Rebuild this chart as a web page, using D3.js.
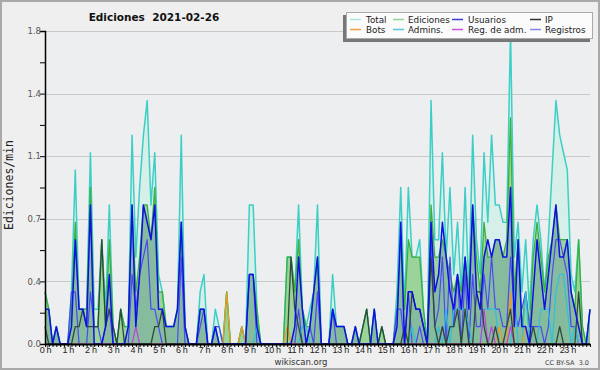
<!DOCTYPE html>
<html>
<head>
<meta charset="utf-8">
<script src="https://cdn.jsdelivr.net/npm/d3@7"></script>
<style>
  body { margin: 0; background: #efefef; }
  svg { display: block; }
</style>
</head>
<body>
<svg id="chart" width="600" height="370"></svg>
<script>
// values per 10 minutes, 00:00 .. 24:00 (145 points), edits per minute
const total = [
  0.3,0.2,0,0.1,0,0,   0,0.3,1.0,0.2,0.2,0.2,   1.1,0.2,0.2,0.6,0.2,0.8,   0.1,0,0.2,0.1,0.1,1.2,
  0.5,0.9,1.2,1.4,0.8,1.1,   0.4,0.3,0.1,0.1,0.1,0.2,   1.2,0.1,0,0,0,0.3,   0.4,0,0,0.2,0.1,0,
  0.3,0,0,0,0.1,0,   0.8,0.8,0.2,0,0,0,   0,0,0,0,0.5,0.5,   0.3,0.8,0.2,0.1,0.2,0.3,
  0.8,0,0,0,0.4,0.1,   0.1,0.1,0,0,0.1,0,   0.1,0.2,0,0.2,0,0.1,   0,0,0,0.3,0.9,0.2,
  0.9,0.5,0.5,0.6,0.2,0,   1.4,0.6,0.6,1.1,0.5,0.9,   0.4,0.7,0.3,0.9,0.3,1.2,   0.6,0.4,1.1,0.7,1.2,0.8,
  0.8,0.7,0.7,1.8,0.5,0.7,   0.3,0.6,0.2,0.6,0.8,0.6,   0.3,0.6,1.0,1.4,1.2,1.1,   1.0,0.4,0.3,0.6,0.1,0,
  0.2
]
const ediciones = [
  0.3,0.2,0,0.1,0,0,   0,0.2,0.7,0.2,0.2,0.2,   0.9,0.1,0.1,0.6,0.1,0.6,   0.1,0,0.2,0.1,0.1,0.8,
  0.3,0.5,0.8,0.8,0.6,0.9,   0.3,0.3,0.1,0.1,0.1,0.2,   0.7,0.1,0,0,0,0.2,   0.2,0,0,0.1,0,0,
  0.3,0,0,0,0.1,0,   0.4,0.4,0.2,0,0,0,   0,0,0,0,0.5,0.5,   0.3,0.6,0.2,0.1,0.1,0.3,
  0.5,0,0,0,0.2,0.1,   0.1,0.1,0,0,0.1,0,   0.1,0.2,0,0.2,0,0.1,   0,0,0,0.2,0.6,0.2,
  0.6,0.5,0.5,0.5,0.2,0,   0.8,0.5,0.5,0.6,0.5,0.4,   0.3,0.4,0.3,0.5,0.3,0.8,   0.5,0.3,0.7,0.5,0.5,0.6,
  0.6,0.5,0.6,1.3,0.3,0.6,   0.1,0.3,0.1,0.5,0.7,0.5,   0.3,0.5,0.6,0.8,0.6,0.6,   0.6,0.3,0.2,0.6,0.1,0,
  0.2
]
const usuarios = [
  0.2,0.2,0,0.1,0,0,   0,0.1,0.6,0.2,0.2,0.1,   0.8,0,0,0,0.1,0.4,   0,0,0,0,0.1,0.8,
  0.1,0.4,0.8,0.7,0.6,0.8,   0.2,0.2,0.1,0.1,0.1,0.2,   0.7,0.1,0,0,0,0.2,   0.2,0,0,0.1,0,0,
  0,0,0,0,0,0,   0.4,0.4,0.1,0,0,0,   0,0,0,0,0,0,   0.1,0.5,0.2,0,0.1,0.3,
  0.5,0,0,0,0.2,0.1,   0.1,0.1,0,0,0.1,0,   0,0,0,0.2,0,0,   0,0,0,0.1,0.7,0,
  0.3,0.3,0.2,0.2,0.1,0,   0.7,0.3,0.4,0.7,0.5,0.3,   0.2,0.4,0.2,0.5,0.2,0.8,   0.3,0.2,0.5,0.6,0.5,0.6,
  0.6,0.5,0.5,0.9,0.1,0.6,   0.1,0.1,0,0.3,0.6,0.4,   0.2,0.4,0.6,0.8,0.5,0.5,   0.6,0.3,0.2,0.1,0,0,
  0.2
]
const ip = [
  0.1,0,0,0,0,0,   0,0,0.1,0.1,0.2,0.1,   0.1,0.1,0.1,0.6,0.1,0.2,   0.1,0,0.2,0,0,0,
  0,0,0,0,0,0.1,   0.1,0.2,0,0,0,0,   0,0,0,0,0,0,   0,0,0,0,0,0,
  0,0,0,0,0,0,   0,0,0,0,0,0,   0,0,0,0,0,0.5,   0.2,0.1,0,0,0,0,
  0,0,0,0,0,0,   0,0,0,0,0,0,   0.1,0.2,0,0,0,0.1,   0,0,0,0,0,0.1,
  0,0.3,0.2,0.2,0.1,0,   0.5,0.1,0,0.1,0,0.1,   0.1,0.2,0,0.2,0,0,   0.3,0.3,0.1,0,0,0.1,
  0,0,0.1,0.2,0,0,   0,0,0,0.1,0,0,   0,0,0,0,0.1,0,   0,0,0,0.3,0,0,
  0
]
const registros = [
  0,0,0,0,0,0,   0,0.3,0.3,0,0,0,   0.3,0.1,0.1,0,0.1,0.2,   0,0,0,0,0,0.4,
  0.2,0.4,0.5,0.6,0.2,0.2,   0.1,0,0,0,0,0,   0.5,0,0,0,0,0.1,   0.2,0,0,0.1,0.1,0,
  0,0,0,0,0,0,   0.4,0.4,0,0,0,0,   0,0,0,0,0,0,   0,0.2,0,0,0.1,0,
  0.3,0,0,0,0.2,0,   0,0,0,0,0,0,   0,0,0,0,0,0,   0,0,0,0.2,0.2,0,
  0.3,0,0,0.1,0,0,   0.6,0.1,0.2,0.5,0,0.5,   0.1,0.4,0,0.4,0,0.4,   0.1,0.1,0.4,0.2,0.5,0.2,
  0.2,0.1,0.1,0.5,0.2,0.1,   0.2,0.3,0.1,0.1,0.1,0.1,   0,0.1,0.4,0.6,0.6,0.5,   0.4,0.1,0.1,0,0,0,
  0
]
const admins = [
  0,0,0,0,0,0,   0,0,0,0,0,0,   0,0,0,0,0,0,   0,0,0,0,0,0,
  0,0,0,0,0,0,   0,0,0,0,0,0,   0,0,0,0,0,0,   0,0,0,0,0,0,
  0,0,0,0,0,0,   0,0,0.1,0,0,0,   0,0,0,0,0,0,   0,0,0.1,0.1,0,0,
  0,0,0,0,0,0,   0,0,0,0,0,0,   0,0,0,0,0,0,   0,0,0,0,0,0,
  0,0.1,0,0,0,0,   0,0,0.1,0,0.2,0,   0.2,0.2,0.2,0.2,0.1,0,   0,0,0.2,0.2,0.2,0.2,
  0,0,0,0,0.3,0,   0,0.3,0,0,0,0.2,   0.2,0.2,0,0.3,0.4,0.4,   0.2,0,0.1,0,0,0,
  0
]
const bots = [
  0,0,0,0,0,0,   0,0,0,0,0,0,   0,0,0,0,0,0,   0,0,0,0,0,0,
  0,0,0,0,0,0,   0,0,0,0,0,0,   0,0,0,0,0,0,   0,0,0,0,0,0,
  0.3,0,0,0,0.1,0,   0,0,0,0,0,0,   0,0,0,0,0.1,0,   0,0,0,0,0,0,
  0,0,0,0,0,0,   0,0,0,0,0,0,   0,0,0,0,0,0,   0,0,0,0,0,0,
  0,0,0,0,0,0,   0,0,0,0,0,0,   0,0,0,0,0,0,   0,0,0,0,0,0,
  0.1,0,0,0.3,0,0,   0,0.1,0,0,0,0,   0,0,0,0,0,0,   0,0,0,0,0,0,
  0
]
const regAdm = [
  0,0,0,0,0,0,   0,0,0,0,0,0,   0,0,0,0,0,0,   0,0,0,0,0,0,
  0.1,0,0,0,0,0,   0,0,0,0,0,0,   0,0,0,0,0,0,   0,0,0,0,0,0,
  0,0,0,0,0,0,   0,0,0,0,0,0,   0,0,0,0,0,0,   0,0,0,0,0,0,
  0,0,0,0,0,0,   0,0,0,0,0,0,   0,0,0,0,0,0,   0,0,0,0,0,0,
  0,0,0,0,0,0,   0,0,0,0.1,0,0,   0,0,0,0,0,0,   0,0,0.2,0,0.1,0,
  0,0,0,0.1,0,0,   0,0,0,0,0,0,   0,0,0,0,0,0,   0,0,0,0,0,0,
  0
]
const hourLabels = d3.range(24).map(h => h + " h")
const legendNames = ["Total", "Ediciones", "Usuarios", "IP", "Bots", "Admins.", "Reg. de adm.", "Registros"]
const legendColors = ["#a8e6de", "#8fd48f", "#3a3ad4", "#333333", "#f0a040", "#50c8d8", "#c850e0", "#8585ec"]

const svg = d3.select("#chart")
const font = "DejaVu Sans, Verdana, sans-serif"

// frame
svg.append("rect").attr("x", 1).attr("y", 1).attr("width", 598).attr("height", 368)
    .attr("fill", "#efefef").attr("stroke", "#a9a9a9").attr("stroke-width", 2)

const x = d3.scaleLinear().domain([0, 144]).range([45, 590])
const y = d3.scaleLinear().domain([0, 1.8]).range([344, 31])

svg.append("rect").attr("x", 45).attr("y", 31).attr("width", 545).attr("height", 313).attr("fill", "#eceef0")

// grid
const majorY = d3.range(0, 6).map(k => k * 0.36)
svg.append("g").selectAll("line").data(majorY.slice(1)).join("line")
    .attr("x1", 45).attr("x2", 590)
    .attr("y1", d => Math.round(y(d)) + 0.5).attr("y2", d => Math.round(y(d)) + 0.5)
    .attr("stroke", "#c9c9c9").attr("stroke-width", 1)

// AREAS
const area = d3.area().x((d, i) => x(i)).y0(y(0)).y1(d => y(d))
const line = d3.line().x((d, i) => x(i)).y(d => y(d))

svg.append("path").datum(total).attr("d", area).attr("fill", "#d6efe8")
svg.append("path").datum(ediciones).attr("d", area).attr("fill", "#9bd39b")
svg.append("path").datum(usuarios).attr("d", area).attr("fill", "rgba(80,128,160,0.28)")

// LINES
const series = [
    {v: total, c: "#3ccfc6", w: 1.5},
    {v: ediciones, c: "#3cb03c", w: 1.3},
    {v: registros, c: "#4a4af2", w: 1.2},
    {v: admins, c: "#2ec0dc", w: 1.2},
    {v: bots, c: "#f09a20", w: 1.2},
    {v: regAdm, c: "#c040e0", w: 1.2},
    {v: ip, c: "#2f4a38", w: 1.3},
    {v: usuarios, c: "#0f0fe6", w: 1.5}
]
for (let s of series) {
    svg.append("path").datum(s.v).attr("d", line)
        .attr("fill", "none").attr("stroke", s.c).attr("stroke-width", s.w)
        .attr("stroke-linejoin", "round")
}

// AXES
const yAxis = svg.append("g").attr("transform", "translate(45,0)")
    .call(d3.axisLeft(y)
        .tickValues(d3.range(0, 11).map(k => k * 0.18))
        .tickSize(5)
        .tickFormat((d, i) => i % 2 ? "" : d3.format(".1f")(d)))
yAxis.select(".domain").attr("stroke", "#000").attr("stroke-width", 1.5)
yAxis.selectAll(".tick line").attr("stroke", "#000")
yAxis.selectAll(".tick text").attr("font-family", font).attr("font-size", 8.5).attr("fill", "#555").attr("x", -4)

const xAxis = svg.append("g").attr("transform", "translate(0,344)")
    .call(d3.axisBottom(x)
        .tickValues(d3.range(0, 145))
        .tickSize(3)
        .tickSizeOuter(0)
        .tickFormat(d => d % 6 === 0 && d < 144 ? hourLabels[d / 6] : ""))
xAxis.select(".domain").attr("stroke", "#000").attr("stroke-width", 2)
xAxis.selectAll(".tick line").attr("stroke", "#000")
xAxis.selectAll(".tick text").attr("font-family", "Liberation Sans, Arial, sans-serif")
    .attr("font-size", 9).attr("fill", "#222").attr("y", 3).attr("letter-spacing", -0.3)
// END AXES

// TEXTS
svg.append("text").text("Ediciones  2021-02-26")
    .attr("x", 154).attr("y", 21).attr("text-anchor", "middle")
    .attr("font-family", font).attr("font-weight", "bold").attr("font-size", 10.5)
    .attr("fill", "#111").style("white-space", "pre")

svg.append("text").text("Ediciones/min")
    .attr("transform", "translate(13,185) rotate(-90)")
    .attr("text-anchor", "middle")
    .attr("font-family", "DejaVu Sans Mono, monospace").attr("font-size", 11.5).attr("fill", "#222")

svg.append("text").text("wikiscan.org")
    .attr("x", 301).attr("y", 365).attr("text-anchor", "middle")
    .attr("font-family", font).attr("font-size", 8.5).attr("fill", "#333")

svg.append("text").text("CC BY-SA  3.0")
    .attr("x", 589).attr("y", 365).attr("text-anchor", "end")
    .attr("font-family", font).attr("font-size", 6.5).attr("fill", "#444").style("white-space", "pre")

// LEGEND
const leg = svg.append("g")
leg.append("rect").attr("x", 343).attr("y", 15).attr("width", 247).attr("height", 27).attr("fill", "#777")
leg.append("rect").attr("x", 346.5).attr("y", 12.5).attr("width", 246).attr("height", 26)
    .attr("fill", "#fbfbfb").attr("stroke", "#aaa")
const colSw = [350, 393, 452, 530]
const colTx = [366, 408, 468, 545]
legendNames.forEach((name, i) => {
    let c = i % 4, r = Math.floor(i / 4)
    let yy = 19.5 + r * 10
    leg.append("line").attr("x1", colSw[c]).attr("x2", colSw[c] + 11)
        .attr("y1", yy).attr("y2", yy).attr("stroke", legendColors[i]).attr("stroke-width", 1.5)
    leg.append("text").text(name).attr("x", colTx[c]).attr("y", yy + 3.5)
        .attr("font-family", font).attr("font-size", 8.8).attr("fill", "#222")
})
</script>
</body>
</html>
